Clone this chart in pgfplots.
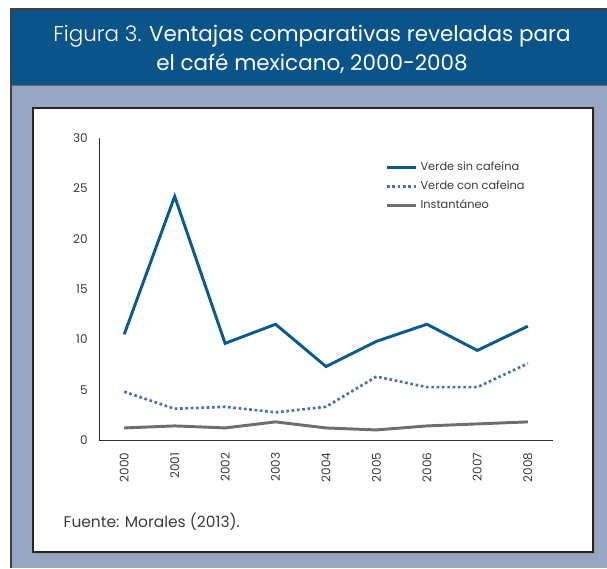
\documentclass[border=0pt]{standalone}
\usepackage{pgfplots}
\pgfplotsset{compat=1.18}
\usepackage{fontspec}
\setmainfont{Poppins}
\newfontfamily\poplight{Poppins Light}
\definecolor{banner}{HTML}{0B5489}
\definecolor{bgc}{HTML}{98A6C6}
\definecolor{lineblue}{HTML}{0B5A8E}
\definecolor{dotblue}{HTML}{4A70AD}
\definecolor{greyl}{HTML}{6D6E70}
\definecolor{textgrey}{HTML}{3C3C3C}
\begin{document}
\begin{tikzpicture}
\begin{scope}[x=0.75pt,y=-0.75pt]
\useasboundingbox (0,0) rectangle (607,568);
\fill[white] (0,0) rectangle (607,568);
\fill[bgc] (11,85) rectangle (607,568);
\fill[banner] (11,9) rectangle (607,85);
\draw[black!75, line width=0.9pt] (11,568) -- (11,9) -- (607,9);
\draw[black!60, line width=0.75pt] (11,85) -- (607,85);
\fill[white] (33,108) rectangle (593,552);
\draw[gray!80, line width=1pt] (34.5,553.5) -- (594.5,553.5) -- (594.5,109.5);
\draw[black!85, line width=0.9pt] (33,108) rectangle (593,552);
\node[white, font=\fontsize{16.1}{20}\selectfont] at (312,36) {{\poplight Figura 3.} Ventajas comparativas reveladas para};
\node[white, font=\fontsize{16.1}{20}\selectfont] at (312,64) {el café mexicano, 2000-2008};
\node[anchor=base west, textgrey, font=\fontsize{11.6}{14}\selectfont] at (59,527) {Fuente: Morales (2013).};
\end{scope}
\begin{axis}[
  at={(74.25pt,-330pt)}, anchor=south west, scale only axis,
  width=340.5pt, height=226.5pt,
  xmin=-0.5, xmax=8.5, ymin=0, ymax=30,
  xtick={0,...,8},
  xticklabels={2000,2001,2002,2003,2004,2005,2006,2007,2008},
  ytick={0,5,...,30},
  axis x line=bottom, axis y line=left,
  axis line style={-, draw=black!80, line width=0.75pt},
  major tick length=0pt,
  /pgf/number format/assume math mode=true,
  tick label style={textgrey, font=\fontsize{9}{11}\selectfont},
  x tick label style={rotate=90, anchor=east, xshift=-6pt},
  y tick label style={xshift=-5pt},
  legend style={at={(0.622,0.94)}, anchor=north west, draw=none, fill=none,
    font=\fontsize{8.5}{10}\selectfont, text=textgrey, row sep=2.2pt},
  legend cell align=left,
  legend image code/.code={\draw[#1] (0pt,0pt) -- (22pt,0pt);},
]
\addplot[lineblue, line width=2.2pt] coordinates {(0,10.5) (1,24.2) (2,9.6) (3,11.5) (4,7.3) (5,9.8) (6,11.5) (7,8.9) (8,11.3)};
\addplot[dotblue, line width=2pt, dash pattern=on 2pt off 2pt] coordinates {(0,4.8) (1,3.1) (2,3.3) (3,2.75) (4,3.3) (5,6.3) (6,5.25) (7,5.25) (8,7.6)};
\addplot[greyl, line width=2.2pt] coordinates {(0,1.2) (1,1.4) (2,1.2) (3,1.8) (4,1.2) (5,1.0) (6,1.4) (7,1.6) (8,1.8)};
\legend{Verde sin cafeína, Verde con cafeína, Instantáneo}
\end{axis}
\end{tikzpicture}
\end{document}
